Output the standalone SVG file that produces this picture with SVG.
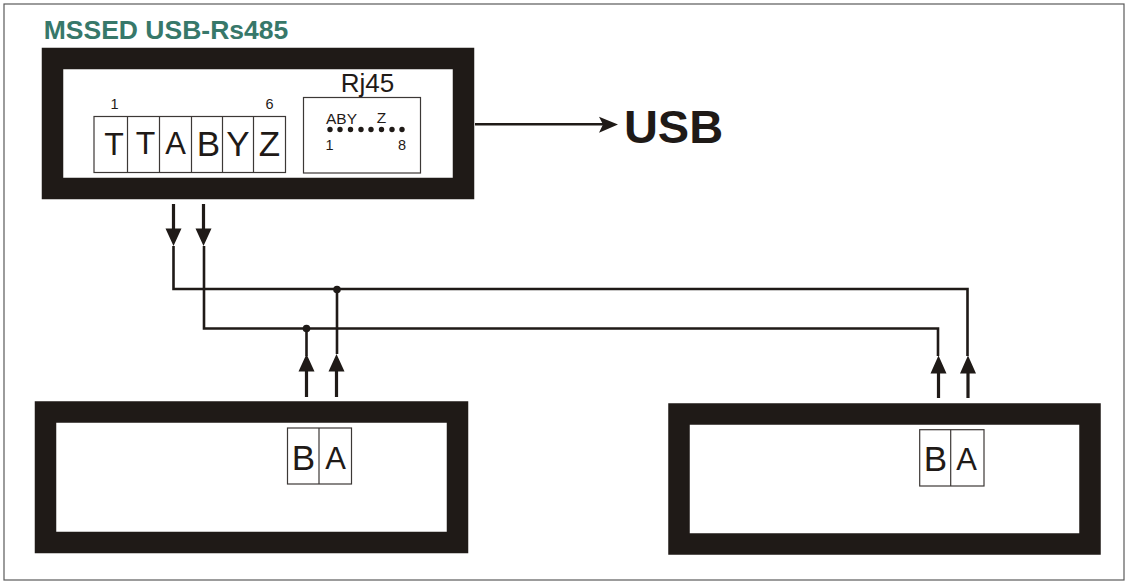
<svg xmlns="http://www.w3.org/2000/svg" width="1127" height="581" viewBox="0 0 1127 581">
<style>
text{font-family:"Liberation Sans",Arial,sans-serif;fill:#1f1a17;text-anchor:middle}
.dev{fill:#fff;stroke:#1f1a17;stroke-width:21.5}
.box{fill:#fff;stroke:#3c3836;stroke-width:1.2}
.div{fill:none;stroke:#3c3836;stroke-width:1.2}
.wire{fill:none;stroke:#1f1a17;stroke-width:2.6}
.tail{fill:none;stroke:#1f1a17;stroke-width:3.2}
.head{fill:#1f1a17}
.l{font-size:35px}
.m{font-size:31px}
.t{font-size:32px}
.s{font-size:14.5px}
</style>
<rect width="1127" height="581" fill="#fff"/>
<rect x="4" y="4" width="1120" height="576" fill="none" stroke="#5a5a5a" stroke-width="1.2"/>
<text x="166" y="39" font-size="26.5" font-weight="700" style="fill:#37786a">MSSED USB-Rs485</text>
<g id="node-mssed">
<rect class="dev" x="52.5" y="58.5" width="411" height="130"/>
<rect class="box" x="94" y="116.500" width="191.500" height="56"/>
<path class="div" d="M127.500 116.500V172.500M159.500 116.500V172.500M191.500 116.500V172.500M222.500 116.500V172.500M253.500 116.500V172.500"/>
<text class="t" x="114" y="155">T</text><text class="t" x="145.500" y="154">T</text><text class="m" x="175.500" y="154">A</text><text class="l" x="208.500" y="155.500">B</text><text class="l" x="238" y="155.500">Y</text><text class="l" x="269.500" y="155.500">Z</text>
<text class="s" x="114.500" y="108.500">1</text><text class="s" x="269.500" y="109">6</text>
<rect class="box" x="303.500" y="97.500" width="117" height="75.500"/>
<text x="367.500" y="92" font-size="26">Rj45</text>
<text x="341.500" y="124" font-size="15.500">ABY</text><text x="381.500" y="123" font-size="15.500">Z</text>
<text class="s" x="329.500" y="150">1</text><text class="s" x="402" y="150">8</text>
<g class="head"><circle cx="330" cy="129.500" r="2.700"/><circle cx="340" cy="129.500" r="2.700"/><circle cx="350.500" cy="129.500" r="2.700"/><circle cx="361" cy="129.500" r="2.700"/><circle cx="371" cy="129.500" r="2.700"/><circle cx="381.500" cy="129.500" r="2.700"/><circle cx="392" cy="129.500" r="2.700"/><circle cx="402" cy="129.500" r="2.700"/></g>
</g>
<g id="node-usb"><text x="673.500" y="143" font-size="47" font-weight="700">USB</text></g>
<g id="node-left">
<rect class="dev" x="45.500" y="412" width="412" height="130.500"/>
<rect class="box" x="287.500" y="428" width="64" height="56"/>
<path class="div" d="M319 428V484"/>
<text class="l" x="303.500" y="469.500">B</text><text class="m" x="335.500" y="469">A</text>
</g>
<g id="node-right">
<rect class="dev" x="679" y="414" width="411" height="130"/>
<rect class="box" x="919.700" y="429.700" width="64.300" height="56.300"/>
<path class="div" d="M950.700 429.700V486"/>
<text class="l" x="935.500" y="471">B</text><text class="m" x="966.500" y="470">A</text>
</g>
<g id="connectors">
<path class="wire" d="M173.500 246V289H967.500V356"/>
<path class="wire" d="M204 246V328.500H938V356"/>
<path class="wire" d="M306.500 328.500V356M337 289V354"/>
<circle class="head" cx="337" cy="289.500" r="3.800"/><circle class="head" cx="306.500" cy="328.500" r="3.800"/>
<path class="tail" d="M173.500 204V232M203.500 204V232M306.500 397V370M336.500 397V370M938.500 398V372M968 398V372"/>
<path class="wire" d="M475 124.300H604"/>
<g class="head">
<path d="M165.500 228.500H181.500L173.500 246ZM195.500 228.500H211.500L203.500 246Z"/>
<path d="M298.500 371.500H314.500L306.500 354ZM328.500 371.500H344.500L336.500 354Z"/>
<path d="M930.500 373.500H946.500L938.500 355.500ZM960 373.500H976L968 355.500Z"/>
<path d="M599 116.700L618 124.500L599 132.700L603 124.500Z"/>
</g>
</g>
</svg>
